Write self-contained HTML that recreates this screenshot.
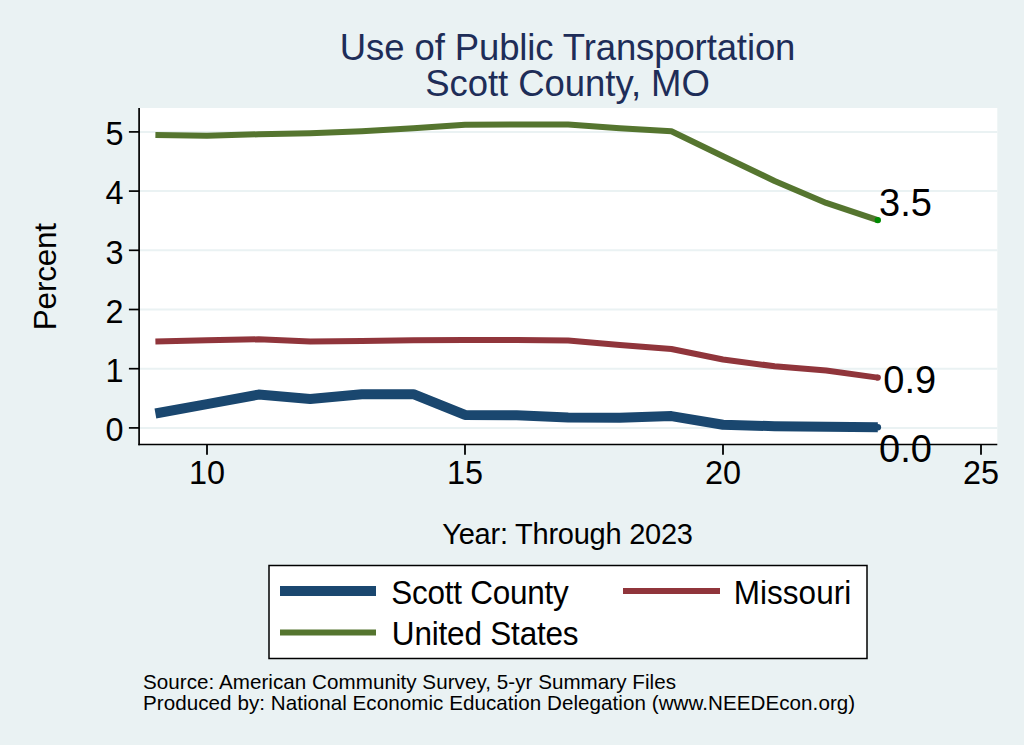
<!DOCTYPE html>
<html><head><meta charset="utf-8"><title>Use of Public Transportation - Scott County, MO</title>
<style>
html,body{margin:0;padding:0;background:#EAF2F3;}
body{width:1024px;height:745px;overflow:hidden;}
svg{display:block;}
text{font-family:"Liberation Sans",Arial,Helvetica,sans-serif;fill:#000;}
.ti{font-size:36.5px;fill:#1E2D58;}
.tk{font-size:32.4px;}
.vl{font-size:38px;}
.yt{font-size:31.5px;}
.xt{font-size:29px;}
.lg{font-size:31.5px;}
.nt{font-size:20.6px;}
</style></head>
<body>
<svg width="1024" height="745" viewBox="0 0 1024 745">
<rect x="0" y="0" width="1024" height="745" fill="#EAF2F3"/>
<rect x="139" y="108" width="858.3" height="336.4" fill="#fff"/>
<line x1="139" y1="427.9" x2="997.3" y2="427.9" stroke="#EAF2F3" stroke-width="2"/>
<line x1="139" y1="368.7" x2="997.3" y2="368.7" stroke="#EAF2F3" stroke-width="2"/>
<line x1="139" y1="309.5" x2="997.3" y2="309.5" stroke="#EAF2F3" stroke-width="2"/>
<line x1="139" y1="250.3" x2="997.3" y2="250.3" stroke="#EAF2F3" stroke-width="2"/>
<line x1="139" y1="191.1" x2="997.3" y2="191.1" stroke="#EAF2F3" stroke-width="2"/>
<line x1="139" y1="131.9" x2="997.3" y2="131.9" stroke="#EAF2F3" stroke-width="2"/>
<polyline points="155.4,135.1 207.0,135.7 258.6,134.3 310.2,133.2 361.8,131.3 413.4,128.3 465.0,124.8 516.6,124.5 568.2,124.5 619.8,128.3 671.4,131.3 723.0,156.2 774.6,181.0 826.2,202.9 877.8,220.1" fill="none" stroke="#55752F" stroke-width="6" stroke-linejoin="round"/>
<polyline points="155.4,341.6 207.0,340.3 258.6,339.3 310.2,341.6 361.8,341.1 413.4,340.3 465.0,340.0 516.6,340.0 568.2,340.6 619.8,345.0 671.4,349.0 723.0,359.5 774.6,366.3 826.2,370.5 877.8,377.6" fill="none" stroke="#90353B" stroke-width="6" stroke-linejoin="round"/>
<polyline points="155.4,413.5 207.0,404.2 258.6,394.6 310.2,399.0 361.8,394.2 413.4,394.2 465.0,414.9 516.6,415.2 568.2,417.4 619.8,417.8 671.4,416.1 723.0,424.7 774.6,426.2 826.2,426.8 877.8,427.2" fill="none" stroke="#1A476F" stroke-width="10" stroke-linejoin="round"/>
<circle cx="877.8" cy="220.1" r="3.2" fill="#008A00"/>
<circle cx="877.8" cy="377.6" r="3.1" fill="#90353B"/>
<circle cx="877.8" cy="427.2" r="3.3" fill="#1A476F"/>
<line x1="139.1" y1="108" x2="139.1" y2="445.2" stroke="#000" stroke-width="1.7"/>
<line x1="138.3" y1="444.4" x2="997.3" y2="444.4" stroke="#000" stroke-width="1.5"/>
<line x1="128.9" y1="427.9" x2="139" y2="427.9" stroke="#000" stroke-width="1.7"/>
<text x="123.4" y="441.1" text-anchor="end" class="tk">0</text>
<line x1="128.9" y1="368.7" x2="139" y2="368.7" stroke="#000" stroke-width="1.7"/>
<text x="123.4" y="381.9" text-anchor="end" class="tk">1</text>
<line x1="128.9" y1="309.5" x2="139" y2="309.5" stroke="#000" stroke-width="1.7"/>
<text x="123.4" y="322.7" text-anchor="end" class="tk">2</text>
<line x1="128.9" y1="250.3" x2="139" y2="250.3" stroke="#000" stroke-width="1.7"/>
<text x="123.4" y="263.5" text-anchor="end" class="tk">3</text>
<line x1="128.9" y1="191.1" x2="139" y2="191.1" stroke="#000" stroke-width="1.7"/>
<text x="123.4" y="204.3" text-anchor="end" class="tk">4</text>
<line x1="128.9" y1="131.9" x2="139" y2="131.9" stroke="#000" stroke-width="1.7"/>
<text x="123.4" y="145.1" text-anchor="end" class="tk">5</text>
<line x1="207.0" y1="444.4" x2="207.0" y2="454.8" stroke="#000" stroke-width="1.8"/>
<text x="207.0" y="484.2" text-anchor="middle" class="tk">10</text>
<line x1="465.0" y1="444.4" x2="465.0" y2="454.8" stroke="#000" stroke-width="1.8"/>
<text x="465.0" y="484.2" text-anchor="middle" class="tk">15</text>
<line x1="723.0" y1="444.4" x2="723.0" y2="454.8" stroke="#000" stroke-width="1.8"/>
<text x="723.0" y="484.2" text-anchor="middle" class="tk">20</text>
<line x1="981.0" y1="444.4" x2="981.0" y2="454.8" stroke="#000" stroke-width="1.8"/>
<text x="981.0" y="484.2" text-anchor="middle" class="tk">25</text>
<text x="879" y="216" class="vl">3.5</text>
<text x="883.3" y="392.8" class="vl">0.9</text>
<text x="879" y="461.7" class="vl">0.0</text>
<text transform="translate(567.64,60.40)" class="ti" text-anchor="middle" textLength="455.54" lengthAdjust="spacing">Use of Public Transportation</text>
<text transform="translate(567.50,95.90)" class="ti" text-anchor="middle" textLength="284.68" lengthAdjust="spacing">Scott County, MO</text>
<text transform="translate(55.60,276.53) rotate(-90)" class="yt" text-anchor="middle" textLength="107.34" lengthAdjust="spacing">Percent</text>
<text transform="translate(567.62,544.00)" class="xt" text-anchor="middle" textLength="250.67" lengthAdjust="spacing">Year: Through 2023</text>
<rect x="269" y="565.5" width="598" height="93" fill="#fff" stroke="#000" stroke-width="1.5"/>
<line x1="280" y1="591" x2="376" y2="591" stroke="#1A476F" stroke-width="10"/>
<line x1="623" y1="591" x2="720" y2="591" stroke="#90353B" stroke-width="6"/>
<line x1="280" y1="632.6" x2="376" y2="632.6" stroke="#55752F" stroke-width="6"/>
<text transform="translate(391.32,603.90) scale(1,1.045)" class="lg" textLength="177.48" lengthAdjust="spacing">Scott County</text>
<text transform="translate(733.74,603.90) scale(1,1.045)" class="lg" textLength="117.55" lengthAdjust="spacing">Missouri</text>
<text transform="translate(391.87,644.80) scale(1,1.045)" class="lg" textLength="186.74" lengthAdjust="spacing">United States</text>
<text transform="translate(143.07,689.00)" class="nt" textLength="532.91" lengthAdjust="spacing">Source: American Community Survey, 5-yr Summary Files</text>
<text transform="translate(143.05,709.80)" class="nt" textLength="712.13" lengthAdjust="spacing">Produced by: National Economic Education Delegation (www.NEEDEcon.org)</text>
</svg>
</body></html>
